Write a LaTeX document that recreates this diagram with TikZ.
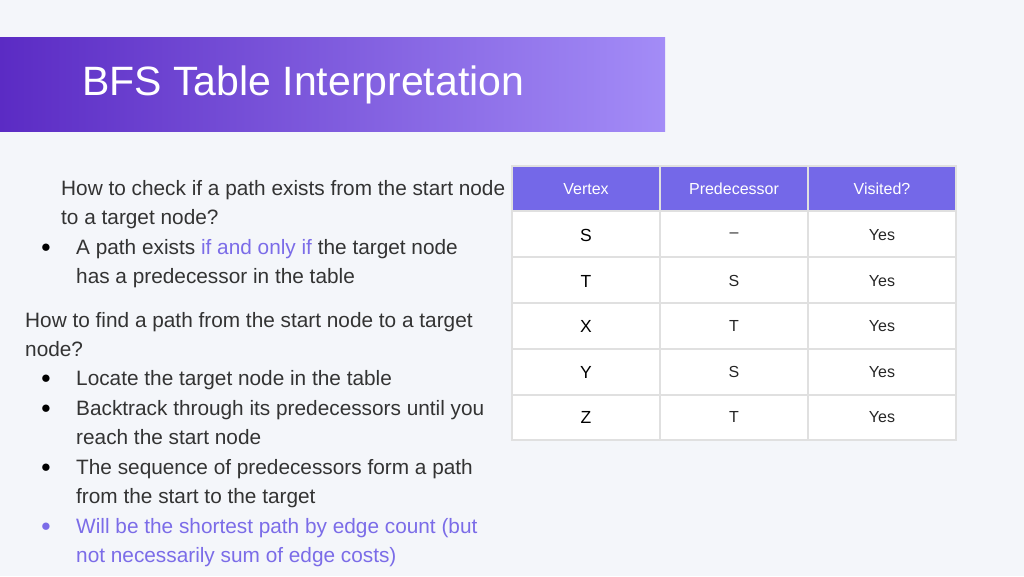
\documentclass[tikz,border=0pt]{standalone}
\usepackage{fontspec}
\setmainfont{Liberation Sans}
\begin{document}
\begin{tikzpicture}[x=1pt,y=-1pt,
  txt/.style={anchor=west,inner sep=0pt,font=\fontsize{20.8}{24}\selectfont,text=black!80,text height=14pt,text depth=4pt},
  bul/.style={anchor=center,inner sep=0pt,font=\fontsize{17}{18}\selectfont},
  cell/.style={anchor=center,inner sep=0pt,font=\fontsize{16}{19}\selectfont,text=black!85},
  head/.style={anchor=center,inner sep=0pt,font=\fontsize{16}{19}\selectfont,text=white}]
\definecolor{bg}{HTML}{F4F6FA}
\definecolor{hl}{HTML}{7B6CE8}
\definecolor{hd}{HTML}{7468E8}
\definecolor{gl}{HTML}{5B2BC4}
\definecolor{gr}{HTML}{A38CF7}
\fill[bg] (0,0) rectangle (1024,576);
\useasboundingbox (0,0) rectangle (1024,576);
\shade[left color=gl,right color=gr] (0,37) rectangle (665,131);
\node[anchor=west,inner sep=0pt,text=white,font=\fontsize{41}{44}\selectfont] (title) at (82,85) {BFS Table Interpretation};
% left text
\node[txt] (l1) at (61,190) {How to check if a path exists from the start node};
\node[txt] (l2) at (61,219) {to a target node?};
\node[bul] (b1) at (46,248) {●};
\node[txt] (l3) at (76,249) {A path exists \textcolor{hl}{if and only if} the target node};
\node[txt] (l4) at (76,278) {has a predecessor in the table};
\node[txt] (l5) at (25,322) {How to find a path from the start node to a target};
\node[txt] (l6) at (25,351) {node?};
\node[bul] (b2) at (46,379) {●};
\node[txt] (l7) at (76,380) {Locate the target node in the table};
\node[bul] (b3) at (46,409) {●};
\node[txt] (l8) at (76,410) {Backtrack through its predecessors until you};
\node[txt] (l9) at (76,439) {reach the start node};
\node[bul] (b4) at (46,468) {●};
\node[txt] (l10) at (76,469) {The sequence of predecessors form a path};
\node[txt] (l11) at (76,498) {from the start to the target};
\node[bul,text=hl] (b5) at (46,527) {●};
\node[txt,text=hl] (l12) at (76,528) {Will be the shortest path by edge count (but};
\node[txt,text=hl] (l13) at (76,557) {not necessarily sum of edge costs)};
% table
\fill[white] (512,211) rectangle (956,440);
\fill[hd] (512,166) rectangle (956,211);
\draw[black!12,line width=1.2pt] (512,166) rectangle (956,440);
\foreach \x in {660,808} \draw[black!12,line width=1.2pt] (\x,166) -- (\x,440);
\foreach \y in {211,257,303,349,395} \draw[black!12,line width=1.2pt] (512,\y) -- (956,\y);
\node[head] (h1) at (586,189) {Vertex};
\node[head] (h2) at (734,189) {Predecessor};
\node[head] (h3) at (882,189) {Visited?};
\foreach \v/\p/\y [count=\i] in {S/--/235,T/S/281,X/T/326,Y/S/372,Z/T/417}{
  \node[cell,font=\fontsize{17.5}{19}\selectfont,text=black] (v\i) at (586,\y) {\v};
  \node[cell] (p\i) at (734,\y) {\p};
  \node[cell] (y\i) at (882,\y) {Yes};
}
\end{tikzpicture}
\end{document}
